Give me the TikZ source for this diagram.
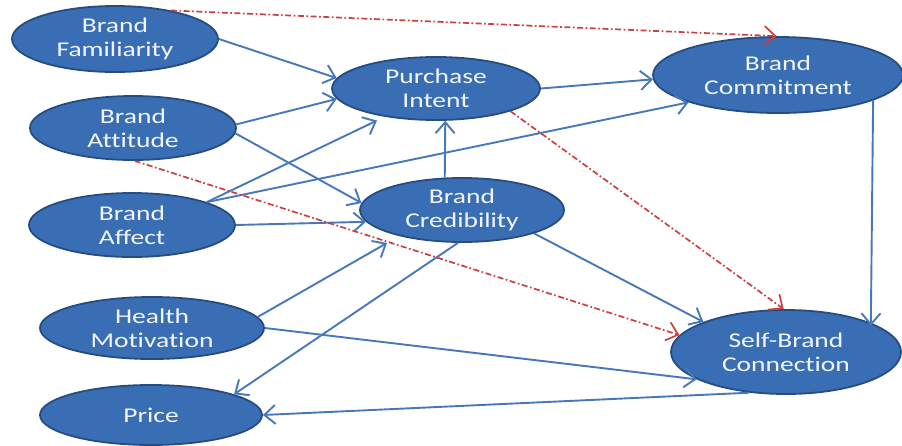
\documentclass[tikz,border=0pt]{standalone}
\usepackage{fontspec}
\setmainfont{Carlito}[FakeStretch=1.31, Ligatures={NoCommon}]
\usetikzlibrary{shapes.geometric,arrows.meta}
\definecolor{nodefill}{RGB}{58,110,180}
\definecolor{nodeborder}{RGB}{38,76,130}
\definecolor{edgeblue}{RGB}{70,120,186}
\definecolor{edgered}{RGB}{205,62,62}
\definecolor{textwhite}{RGB}{242,246,252}
\begin{document}
\begin{tikzpicture}[x=1pt,y=-1pt,
  concept/.style={ellipse, draw=nodeborder, fill=nodefill, line width=1.8pt,
    text=textwhite, inner sep=0pt, align=center, font=\fontsize{21}{24}\selectfont},
  link/.style={draw=edgeblue, line width=1.9pt,
    -{Straight Barb[length=11pt,width=19pt]}},
  dlink/.style={draw=edgered, line width=1.7pt,
    dash pattern=on 6pt off 2.5pt on 1.7pt off 2.5pt,
    -{Straight Barb[length=11pt,width=19pt]}}]
\useasboundingbox (0,0) rectangle (902,445);
\node[concept, minimum width=206, minimum height=66] (fam) at (115,39) {Brand\\Familiarity};
\node[concept, minimum width=206, minimum height=64] (att) at (133,128) {Brand\\Attitude};
\node[concept, minimum width=206, minimum height=64] (aff) at (132,225) {Brand\\Affect};
\node[concept, minimum width=224, minimum height=62] (hm) at (152,328) {Health\\Motivation};
\node[concept, minimum width=222, minimum height=60] (price) at (151,415) {Price};
\node[concept, minimum width=208, minimum height=63] (pi) at (436,88.5) {Purchase\\Intent};
\node[concept, minimum width=204, minimum height=64] (cred) at (462,210) {Brand\\Credibility};
\node[concept, minimum width=250, minimum height=76] (com) at (778,75) {Brand\\Commitment};
\node[concept, minimum width=230, minimum height=84] (sbc) at (786,352) {Self-Brand\\Connection};

% blue links
\draw[link] (fam.east) -- (pi.174);
\draw[link] (att.2) -- (pi.186);
\draw[link] (att.-3) -- (cred.176);
\draw[link] (aff.17) -- ([shift={(-59,32)}]pi.center);
\draw[link] (aff.17) -- (com.197);
\draw[link] (aff.east) -- (cred.187);
\draw[link] (cred.118) -- (pi.-74);
\draw[link] (pi.east) -- (com.182);
\draw[link] (hm.6) -- ([shift={(-75,33)}]cred.center);
\draw[link] (hm.east) -- (sbc.197);
\draw[link] (cred.-97) -- (price.14);
\draw[link] (cred.-18) -- (sbc.160);
\draw[link, shorten >=-3pt] (com.-15) -- (sbc.19);
\draw[link] (sbc.-132) -- (price.east);

% red dashed links
\draw[dlink] (fam.27) -- (com.92);
\draw[dlink] (pi.-17) -- (sbc.93);
\draw[dlink] (att.-87) -- (sbc.171);
\end{tikzpicture}
\end{document}
